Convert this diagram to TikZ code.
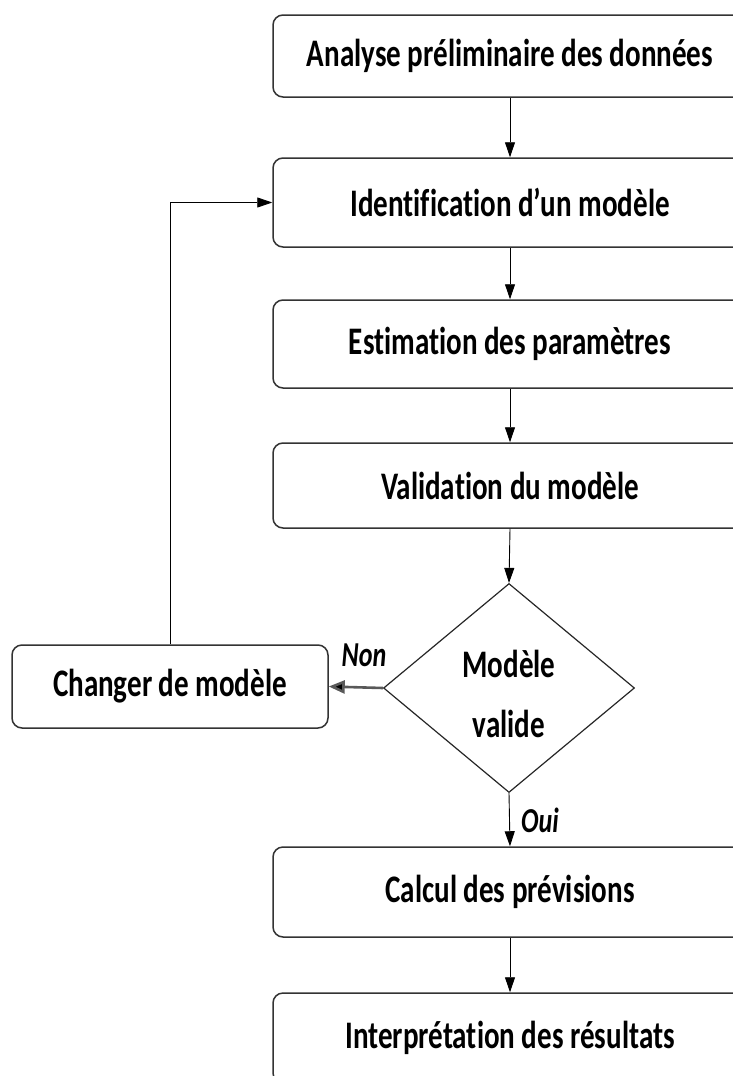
\documentclass[tikz,border=0pt]{standalone}
\usepackage{fontspec}
\setmainfont{Carlito}
\newfontfamily\flowfont[FakeStretch=0.745,Ligatures=NoCommon]{Carlito}
\usetikzlibrary{shapes.geometric,arrows.meta}

\tikzset{
  steptext/.style={font=\flowfont\bfseries\fontsize{39}{44}\selectfont},
  stepbox/.style={steptext, draw=black!80, line width=1.5pt, rounded corners=10pt, fill=white,
    minimum width=474pt, inner sep=0pt},
  flow/.style={draw=black, line width=0.9pt, -{Triangle[length=15pt,width=10pt]}},
  decision/.style={draw=black!85, line width=1.2pt, shape=diamond, minimum width=251pt,
    minimum height=209pt, inner sep=0pt},
  answer/.style={font=\flowfont\bfseries\itshape\fontsize{35}{40}\selectfont, inner sep=0pt}
}

\begin{document}
\begin{tikzpicture}[x=1pt,y=-1pt]
  \useasboundingbox (0,0) rectangle (733,1076);
  \clip (0,0) rectangle (733,1076);

  % main chain of steps
  \node[stepbox, minimum height=82pt] (b1) at (510,56) {Analyse préliminaire des données};
  \node[stepbox, minimum height=89pt] (b2) at (510,202.5) {Identification d’un modèle};
  \node[stepbox, minimum height=88pt] (b3) at (510,344) {Estimation des paramètres};
  \node[stepbox, minimum height=85pt] (b4) at (510,485.5) {Validation du modèle};
  \node[decision] (dec) at (509,688) {};
  \node[steptext, align=center, inner sep=0pt]
    (dectext) at (509,694) {Modèle\\[16pt]valide};
  \node[stepbox, minimum height=90pt] (b5) at (510,892) {Calcul des prévisions};
  \node[stepbox, minimum height=90pt] (b6) at (510,1038) {Interprétation des résultats};

  % side step reached when the model is rejected
  \node[stepbox, minimum width=316pt, minimum height=83pt] (chg) at (170,686.5) {Changer de modèle};

  % connectors
  \draw[flow] (b1) -- (b2);
  \draw[flow] (b2) -- (b3);
  \draw[flow] (b3) -- (b4);
  \draw[flow] (b4.south) -- (dec.north);
  \draw[flow] (dec.south) -- (b5.north);
  \draw[flow] (b5) -- (b6);
  \draw[draw=black!65, line width=2.6pt, -{Triangle[length=16pt,width=13pt,fill=black]}] (dec.west) -- (chg.east);
  \draw[flow] (chg.north) |- (b2.west);

  % answers of the decision
  \node[answer] (non) at (364,655) {Non};
  \node[answer] (oui) at (540,820) {Oui};
\end{tikzpicture}
\end{document}
